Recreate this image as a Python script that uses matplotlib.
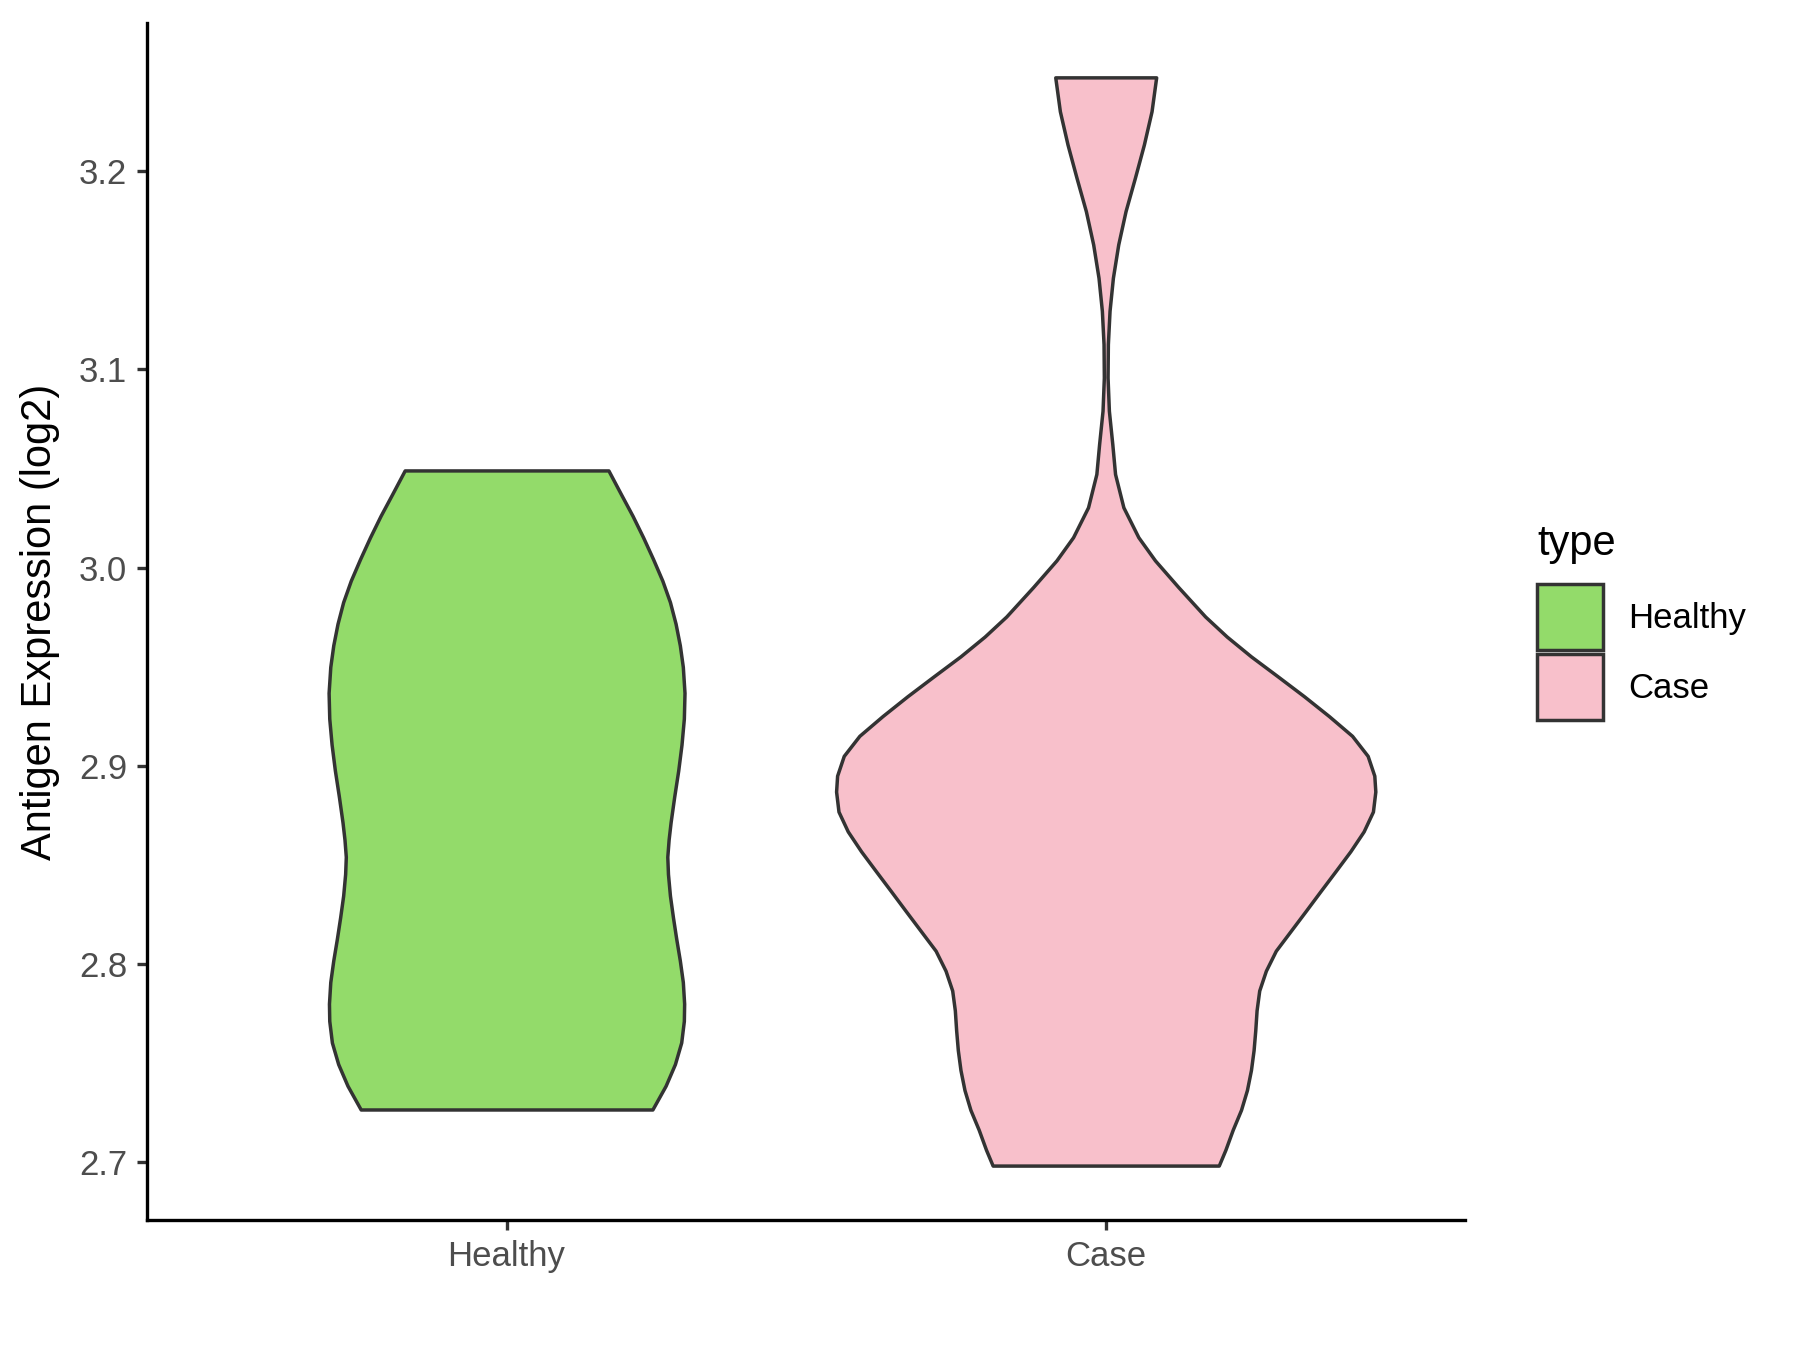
"""
Violín de expresión de antígeno (log2) para Healthy vs Case.
Los contornos se leen de la figura de referencia.
"""

import matplotlib
matplotlib.use("Agg")
import matplotlib.pyplot as plt
from matplotlib.patches import Patch
import numpy as np

plt.rcParams['font.family'] = ['Liberation Sans', 'DejaVu Sans']

categories = ["Healthy", "Case"]
fill_colors = ["#93DB6A", "#F8C0CB"]

# contorno de cada violín: valor (log2) y semiancho (unidades del eje x)
healthy_y = [3.0490, 3.0370, 3.0261, 3.0152, 3.0043, 2.9934, 2.9826, 2.9717,
             2.9608, 2.9499, 2.9368, 2.9238, 2.9107, 2.8976, 2.8846, 2.8715,
             2.8628, 2.8541, 2.8454, 2.8345, 2.8236, 2.8127, 2.8018, 2.7909,
             2.7800, 2.7713, 2.7604, 2.7495, 2.7386, 2.7266]
healthy_hw = [0.1700, 0.1910, 0.2103, 0.2280, 0.2445, 0.2600, 0.2727, 0.2821,
              0.2892, 0.2942, 0.2970, 0.2959, 0.2920, 0.2865, 0.2799, 0.2738,
              0.2705, 0.2683, 0.2694, 0.2727, 0.2777, 0.2832, 0.2892, 0.2942,
              0.2964, 0.2959, 0.2915, 0.2810, 0.2655, 0.2434]

case_y = [3.2473, 3.2302, 3.2134, 3.1966, 3.1798, 3.1630, 3.1462, 3.1295,
          3.1127, 3.0959, 3.0791, 3.0623, 3.0472, 3.0304, 3.0153, 3.0036,
          2.9901, 2.9753, 2.9652, 2.9552, 2.9452, 2.9351, 2.9251,
          2.9151, 2.9050, 2.8950, 2.8870, 2.8769, 2.8669, 2.8569, 2.8468,
          2.8368, 2.8267, 2.8167, 2.8067, 2.7966, 2.7866, 2.7766, 2.7665,
          2.7565, 2.7465, 2.7364, 2.7264, 2.7164, 2.7063, 2.6983]
case_hw = [0.0842, 0.0765, 0.0637, 0.0487, 0.0331, 0.0209, 0.0120, 0.0064,
           0.0036, 0.0031, 0.0053, 0.0110, 0.0156, 0.0295, 0.0545, 0.0823,
           0.1213, 0.1660, 0.2020, 0.2424, 0.2867, 0.3309, 0.3724,
           0.4112, 0.4372, 0.4483, 0.4500, 0.4460, 0.4305, 0.4084, 0.3835,
           0.3586, 0.3337, 0.3088, 0.2839, 0.2673, 0.2562, 0.2518, 0.2496,
           0.2468, 0.2424, 0.2357, 0.2258, 0.2120, 0.1998, 0.1887]

yticks = [2.7, 2.8, 2.9, 3.0, 3.1, 3.2]

fig = plt.figure(figsize=(9, 6.75), dpi=200)
ax = fig.add_axes([0.0817, 0.0963, 0.7323, 0.8867])

edge = "#333333"
profiles = [(healthy_y, healthy_hw), (case_y, case_hw)]
for i, (yy, hw) in enumerate(profiles):
    yy = np.asarray(yy)
    hw = np.asarray(hw)
    x0 = i + 1
    ax.fill_betweenx(yy, x0 - hw, x0 + hw, facecolor=fill_colors[i],
                     edgecolor=edge, linewidth=1.25, joinstyle="round")

# límites con expansión del 5% (como ggplot)
ymin = min(min(healthy_y), min(case_y))
ymax = max(max(healthy_y), max(case_y))
rng = ymax - ymin
ax.set_ylim(ymin - 0.05 * rng, ymax + 0.05 * rng)
ax.set_xlim(0.4, 2.6)

ax.set_xticks([1, 2])
ax.set_xticklabels(categories)
ax.set_yticks(yticks)
ax.set_yticklabels([f"{t:.1f}" for t in yticks])

for s in ["top", "right"]:
    ax.spines[s].set_visible(False)
for s in ["left", "bottom"]:
    ax.spines[s].set_linewidth(1.2)
    ax.spines[s].set_color("black")

ax.tick_params(axis="both", length=3.6, width=1.2, color="#333333",
               labelsize=12.5, labelcolor="#4D4D4D", pad=3.5)
ax.set_ylabel("Antigen Expression (log2)", fontsize=15, color="black",
              labelpad=7)

# leyenda: título aparte para controlar la separación con las cajas
fig.text(0.854, 1 - 555 / 1350, "type", fontsize=15, ha="left",
         va="baseline", color="black")
handles = [Patch(facecolor=c, edgecolor=edge, linewidth=1.25) for c in fill_colors]
leg = fig.legend(handles, categories, loc="upper left",
                 bbox_to_anchor=(0.854, 1 - 584 / 1350), frameon=False,
                 fontsize=12.5, handlelength=1.9, handleheight=2.55,
                 labelspacing=0.12, handletextpad=0.72,
                 borderaxespad=0.0, borderpad=0.0)

fig.savefig("out.png", dpi=200)
